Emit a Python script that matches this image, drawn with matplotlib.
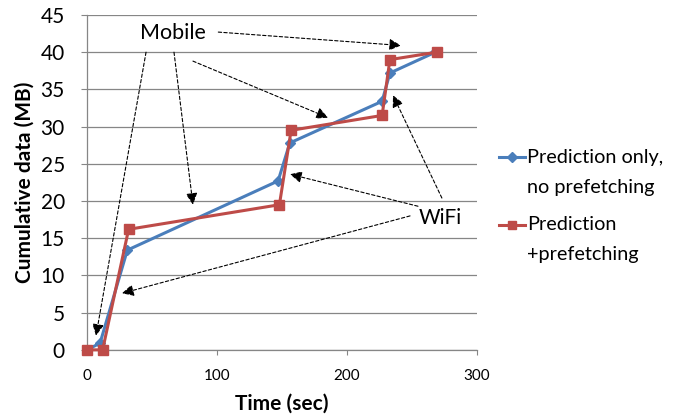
import matplotlib
matplotlib.use("Agg")
import matplotlib.pyplot as plt
from matplotlib.legend_handler import HandlerLine2D
from matplotlib.transforms import Affine2D

plt.rcParams['font.family'] = ['Lato', 'DejaVu Sans']

# Series: time (sec) vs cumulative data (MB)
pred_only_t = [0, 10, 31, 147, 156, 227, 233, 268]
pred_only_mb = [0, 0.9, 13.4, 22.7, 27.8, 33.4, 37.2, 40]
prefetch_t = [0, 12, 32, 148, 157, 227, 233, 269]
prefetch_mb = [0, 0, 16.2, 19.5, 29.5, 31.5, 39, 40]

series_labels = ["Prediction only,\nno prefetching", "Prediction\n+prefetching"]
x_ticks = [0, 100, 200, 300]
y_ticks = [0, 5, 10, 15, 20, 25, 30, 35, 40, 45]

# Annotation callouts: (text position, list of (start, end) arrows)
mobile_text = (66, 42.6)
mobile_arrows = [((101, 42.7), (241.5, 40.9)),
                 ((81.5, 38.8), (185.4, 31.2)),
                 ((66.9, 40.0), (81.5, 19.5)),
                 ((45.4, 40.0), (6.9, 1.9))]
wifi_text = (271.5, 17.7)
wifi_arrows = [((273, 20.4), (235.4, 34.2)),
               ((254.6, 19.3), (156.2, 23.6)),
               ((248.5, 18.0), (26.9, 7.6))]


class FirstLineHandler(HandlerLine2D):
    """Line handler that sits level with the first line of a two-line label."""

    def __init__(self, dy, **kw):
        super().__init__(**kw)
        self.dy = dy

    def create_artists(self, legend, orig_handle, xdescent, ydescent,
                       width, height, fontsize, trans):
        trans = Affine2D().translate(0, self.dy) + trans
        return super().create_artists(legend, orig_handle, xdescent, ydescent,
                                      width, height, fontsize, trans)


fig = plt.figure(figsize=(6.82, 4.16), dpi=100)
ax = fig.add_axes([0.1276, 0.159, 0.5718, 0.805])

grid_c = '#868686'
ax.set_xlim(0, 300)
ax.set_ylim(0, 45)
ax.set_xticks(x_ticks)
ax.set_yticks(y_ticks)
ax.yaxis.grid(True, color=grid_c, linewidth=0.9)
ax.set_axisbelow(True)
for s in ['top', 'right']:
    ax.spines[s].set_visible(False)
for s in ['left', 'bottom']:
    ax.spines[s].set_color(grid_c)
    ax.spines[s].set_linewidth(0.9)
ax.tick_params(axis='y', length=4, color=grid_c, labelsize=15, pad=12)
ax.tick_params(axis='x', length=3.5, color=grid_c, labelsize=11, pad=10.5)

l1, = ax.plot(pred_only_t, pred_only_mb, color='#4A7EBB', linewidth=2.2,
              marker='D', markersize=5.5, markerfacecolor='#4A7EBB',
              markeredgecolor='#4A7EBB', clip_on=False, zorder=3)
l2, = ax.plot(prefetch_t, prefetch_mb, color='#BE4B48', linewidth=2.2,
              marker='s', markersize=7, markerfacecolor='#BE4B48',
              markeredgecolor='#BE4B48', clip_on=False, zorder=4)

ax.set_xlabel('Time (sec)', fontsize=15, fontweight='bold', labelpad=7.5)
ax.set_ylabel('Cumulative data (MB)', fontsize=15, fontweight='bold', labelpad=4)

arrow_kw = dict(arrowstyle='-|>,head_length=0.7,head_width=0.35', color='black',
                linestyle=(0, (3, 2)), linewidth=0.8, shrinkA=0, shrinkB=0)
ax.text(*mobile_text, 'Mobile', fontsize=15.5, ha='center', va='center')
for (s, e) in mobile_arrows:
    ax.annotate('', xy=e, xytext=s, arrowprops=arrow_kw, annotation_clip=False)
ax.text(*wifi_text, 'WiFi', fontsize=15, ha='center', va='center')
for (s, e) in wifi_arrows:
    ax.annotate('', xy=e, xytext=s, arrowprops=arrow_kw, annotation_clip=False)

handler = FirstLineHandler(10.9)
leg = fig.legend([l1, l2], series_labels, loc='upper left',
                 bbox_to_anchor=(0.731, 0.643), frameon=False, fontsize=14.3,
                 handlelength=1.31, handletextpad=0.13, labelspacing=1.02,
                 markerscale=0.85, borderaxespad=0, borderpad=0,
                 handler_map={l1: handler, l2: handler})
for t in leg.get_texts():
    t.set_linespacing(1.95)

fig.savefig('out.png', dpi=100)
